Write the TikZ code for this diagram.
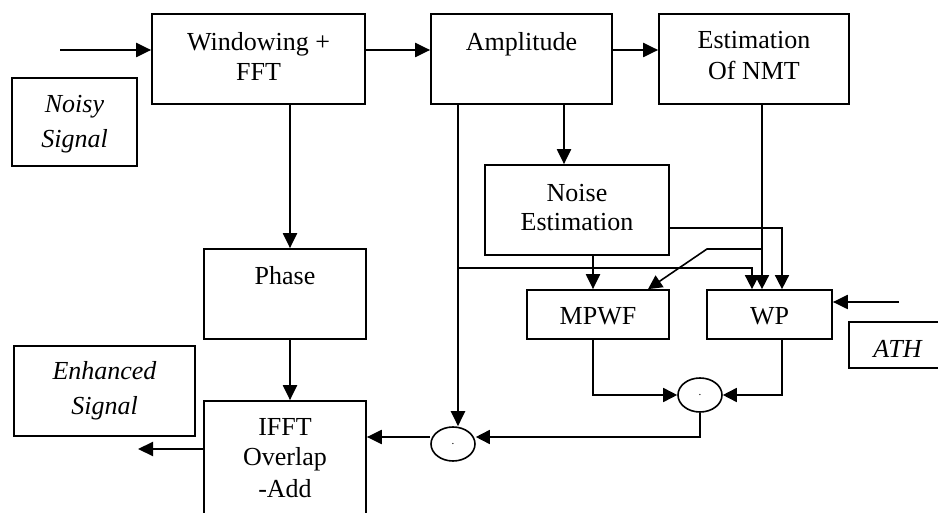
\documentclass[tikz,border=0pt]{standalone}
\usepackage{fontspec}
\setmainfont{Liberation Serif}
\usetikzlibrary{arrows.meta,shapes.geometric}
\begin{document}
\begin{tikzpicture}[x=1pt,y=-1pt,
  box/.style={draw, line width=1.7pt, inner sep=0pt},
  mult/.style={draw, ellipse, line width=1.6pt, minimum width=44pt, minimum height=34pt,
    inner sep=0pt, font=\fontsize{11}{11}\selectfont},
  lbl/.style={anchor=base, inner sep=0pt, font=\fontsize{26}{30}\selectfont},
  ilbl/.style={anchor=base, inner sep=0pt, font=\fontsize{26}{30}\selectfont\itshape},
  arr/.style={line width=2.1pt, -{Triangle[length=15pt,width=14pt]}},
  tarr/.style={line width=1.6pt, -{Triangle[length=14pt,width=14pt]}},
]
\clip (0,0) rectangle (938,513);
\fill[white] (0,0) rectangle (938,513);

% blocks
\node[box, minimum width=125pt, minimum height=88pt] (noisy) at (74.5,122) {};
\node[box, minimum width=213pt, minimum height=90pt] (win)   at (258.5,59) {};
\node[box, minimum width=181pt, minimum height=90pt] (amp)   at (521.5,59) {};
\node[box, minimum width=190pt, minimum height=90pt] (nmt)   at (754,59) {};
\node[box, minimum width=162pt, minimum height=90pt] (phase) at (285,294) {};
\node[box, minimum width=162pt, minimum height=130pt] (ifft) at (285,466) {};
\node[box, minimum width=181pt, minimum height=90pt] (enh)   at (104.5,391) {};
\node[box, minimum width=184pt, minimum height=90pt] (noise) at (577,210) {};
\node[box, minimum width=142pt, minimum height=49pt] (mpwf)  at (598,314.5) {};
\node[box, minimum width=125pt, minimum height=49pt] (wp)    at (769.5,314.5) {};
\node[box, minimum width=97pt, minimum height=46pt]  (ath)   at (897.5,345) {};
\node[mult] (m1) at (453,444) {.};
\node[mult] (m2) at (700,395) {.};

% block texts
\node[ilbl] (noisyA) at (74.5,113) {Noisy};
\node[ilbl] (noisyB) at (74.5,148) {Signal};
\node[lbl] (winA) at (258.5,51) {Windowing +};
\node[lbl] (winB) at (258.5,81) {FFT};
\node[lbl] (ampA) at (521.5,51) {Amplitude};
\node[lbl] (nmtA) at (754,49) {Estimation};
\node[lbl] (nmtB) at (754,80) {Of NMT};
\node[lbl] (noiseA) at (577,202) {Noise};
\node[lbl] (noiseB) at (577,231) {Estimation};
\node[lbl] (phaseA) at (285,285) {Phase};
\node[lbl] (ifftA) at (285,435) {IFFT};
\node[lbl] (ifftB) at (285,465) {Overlap};
\node[lbl] (ifftC) at (285,497) {-Add};
\node[ilbl] (enhA) at (104.5,380) {Enhanced};
\node[ilbl] (enhB) at (104.5,414) {Signal};
\node[lbl] (mpwfA) at (598,325) {MPWF};
\node[lbl] (wpA) at (769.5,325) {WP};
\node[ilbl] (athA) at (897.5,357) {ATH};

% routing points
\coordinate (in) at (60,50);
\coordinate (out) at (138,449);
\coordinate (athin) at (899,302);
\coordinate (colA) at (290,0);
\coordinate (colB) at (458,0);
\coordinate (colC) at (564,0);
\coordinate (colD) at (593,0);
\coordinate (colE) at (752,0);
\coordinate (colF) at (762,0);
\coordinate (colG) at (782,0);
\coordinate (colH) at (648,0);
\coordinate (rowA) at (0,268);
\coordinate (rowB) at (0,228);
\coordinate (rowC) at (0,249);
\coordinate (rowD) at (0,437);
\coordinate (bend) at (707,249);

% connectors
\draw[arr] (in) -- (in -| win.west);
\draw[arr] (win.east |- in) -- (amp.west |- in);
\draw[arr] (amp.east |- in) -- (nmt.west |- in);
\draw[arr] (win.south -| colA) -- (phase.north -| colA);
\draw[arr] (phase.south -| colA) -- (ifft.north -| colA);
\draw[arr] (ifft.west |- out) -- (out);
\draw[arr] (amp.south -| colB) -- (colB |- m1.north);
\draw[arr] (amp.south -| colC) -- (noise.north -| colC);
\draw[arr] (noise.south -| colD) -- (mpwf.north -| colD);
\draw[tarr] (colB |- rowA) -| (colE |- wp.north);
\draw[tarr] (nmt.south -| colF) -- (wp.north -| colF);
\draw[tarr] (noise.east |- rowB) -| (colG |- wp.north);
\draw[tarr] (colF |- rowC) -- (bend) -- (mpwf.north -| colH);
\draw[arr] (athin) -- (athin -| wp.east);
\draw[tarr] (mpwf.south -| colD) |- (m2.west);
\draw[tarr] (wp.south -| colG) |- (m2.east);
\draw[tarr] (m2.south) |- (m1.east |- rowD);
\draw[arr] (m1.west |- rowD) -- (ifft.east |- rowD);
\end{tikzpicture}
\end{document}
